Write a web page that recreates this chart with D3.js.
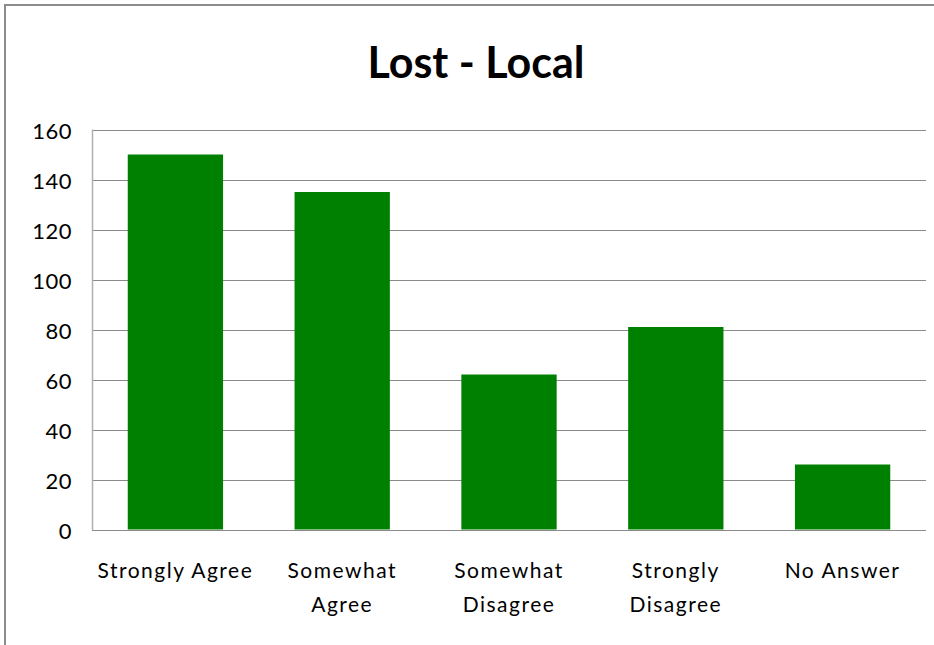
<!DOCTYPE html>
<html>
<head>
<meta charset="utf-8">
<script src="https://cdn.jsdelivr.net/npm/d3@7/dist/d3.min.js"></script>
<style>
  html, body { margin: 0; padding: 0; background: #fff; }
  svg { display: block; }
</style>
</head>
<body>
<svg id="chart" width="934" height="645"></svg>
<script>
const title = "Lost - Local";
const categories = ["Strongly Agree", "Somewhat Agree", "Somewhat Disagree", "Strongly Disagree", "No Answer"];
const categoryLines = [["Strongly Agree"], ["Somewhat", "Agree"], ["Somewhat", "Disagree"], ["Strongly", "Disagree"], ["No Answer"]];
const values = [150, 135, 62, 81, 26];
const yTicks = [0, 20, 40, 60, 80, 100, 120, 140, 160];

const svg = d3.select("#chart");
const W = 934, H = 645;
const plot = { left: 92, right: 926, top: 129.5, bottom: 529.5 };
const font = "Lato, 'Open Sans', sans-serif";

// outer frame (top and left edges visible)
svg.append("path")
  .attr("d", `M5,${H} L5,5 L${W},5`)
  .attr("fill", "none")
  .attr("stroke", "#8c8c8c")
  .attr("stroke-width", 2);

const x = d3.scaleBand()
  .domain(categories)
  .range([plot.left, plot.right])
  .paddingInner(0.4286)
  .paddingOuter(0.2143);

const y = d3.scaleLinear()
  .domain([0, 160])
  .range([plot.bottom, plot.top]);

// gridlines
svg.append("g")
  .selectAll("line")
  .data(yTicks)
  .join("line")
  .attr("x1", plot.left)
  .attr("x2", plot.right)
  .attr("y1", d => Math.round(y(d)) + 0.5)
  .attr("y2", d => Math.round(y(d)) + 0.5)
  .attr("stroke", "#8a8a8a")
  .attr("stroke-width", 1);

// y axis line
svg.append("line")
  .attr("x1", plot.left + 0.5).attr("x2", plot.left + 0.5)
  .attr("y1", plot.top).attr("y2", plot.bottom + 0.5)
  .attr("stroke", "#b0b0b0")
  .attr("stroke-width", 1.5);

// y tick labels via axis
const yAxis = d3.axisLeft(y).tickValues(yTicks).tickSize(0).tickPadding(20);
const gy = svg.append("g")
  .attr("transform", `translate(${plot.left},0)`)
  .call(yAxis);
gy.select(".domain").remove();
gy.selectAll("text")
  .attr("font-family", font)
  .attr("font-size", 22)
  .attr("letter-spacing", "0.5px")
  .attr("fill", "#000")
  .attr("dy", "0.42em");

// bars
svg.append("g")
  .selectAll("rect")
  .data(values)
  .join("rect")
  .attr("x", (d, i) => x(categories[i]))
  .attr("width", x.bandwidth())
  .attr("y", d => y(d))
  .attr("height", d => y(0) - y(d))
  .attr("fill", "#008000");

// x labels
const gx = svg.append("g");
categories.forEach((c, i) => {
  const t = gx.append("text")
    .attr("x", x(c) + x.bandwidth() / 2)
    .attr("y", 578)
    .attr("text-anchor", "middle")
    .attr("font-family", font)
    .attr("font-size", 21)
    .attr("letter-spacing", "1.5px")
    .attr("fill", "#000");
  categoryLines[i].forEach((line, j) => {
    t.append("tspan")
      .attr("x", x(c) + x.bandwidth() / 2)
      .attr("y", 578 + j * 34)
      .text(line);
  });
});

// title
svg.append("text")
  .attr("x", 476)
  .attr("y", 78)
  .attr("text-anchor", "middle")
  .attr("font-family", font)
  .attr("font-weight", "bold")
  .attr("font-size", 43)
  .attr("fill", "#000")
  .text(title);
</script>
</body>
</html>
